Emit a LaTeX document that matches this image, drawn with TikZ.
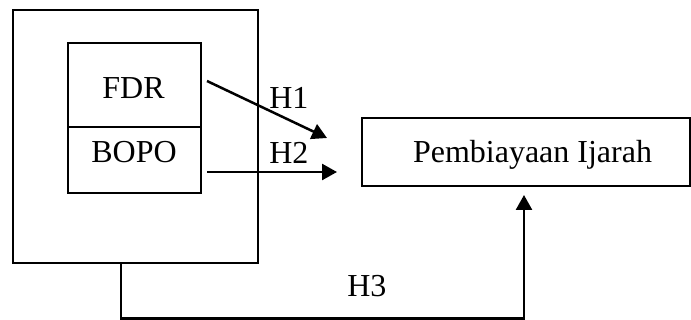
\documentclass[tikz,border=0pt]{standalone}
\usepackage{fontspec}
\setmainfont{Liberation Serif}
\usetikzlibrary{arrows.meta}

\begin{document}
\begin{tikzpicture}[x=0.5pt,y=-0.5pt,line width=1.25pt,
  box/.style={draw,line width=1.25pt,rectangle,inner sep=0pt},
  txt/.style={anchor=base,inner sep=0pt,font=\fontsize{16}{19}\selectfont},
  hyp/.style={-{Triangle[length=7.5pt,width=8pt]},line width=1.25pt}]
\useasboundingbox (0,0) rectangle (691,320);
% boxes
\node[box,minimum width=122.5pt,minimum height=126.5pt] (outer) at (135.5,136.5) {};
\node[box,minimum width=66.5pt,minimum height=42pt] (fdr) at (134.5,85) {};
\node[box,minimum width=66.5pt,minimum height=33pt] (bopo) at (134.5,160) {};
\node[box,minimum width=164pt,minimum height=34pt] (ijarah) at (526,152) {};
% texts
\node[txt] (fdrtxt) at (133.5,99) {FDR};
\node[txt] (bopotxt) at (134,163) {BOPO};
\node[txt] (ijarahtxt) at (532.5,163) {Pembiayaan Ijarah};
\node[txt,anchor=base west] (h1) at (268,109) {H1};
\node[txt,anchor=base west] (h2) at (268,164) {H2};
\node[txt,anchor=base west] (h3) at (346,297) {H3};
% arrows
\coordinate (h1a) at (207,81);
\coordinate (h1b) at (327,138);
\coordinate (h2a) at (207,172);
\coordinate (h2b) at (337,172);
\coordinate (h3b) at (524,195);
\draw[hyp] (h1a) -- (h1b);
\draw[hyp] (h2a) -- (h2b);
\draw[hyp] (outer.south -| 121,0) -- (121,318.5) -| (h3b);
\end{tikzpicture}
\end{document}
